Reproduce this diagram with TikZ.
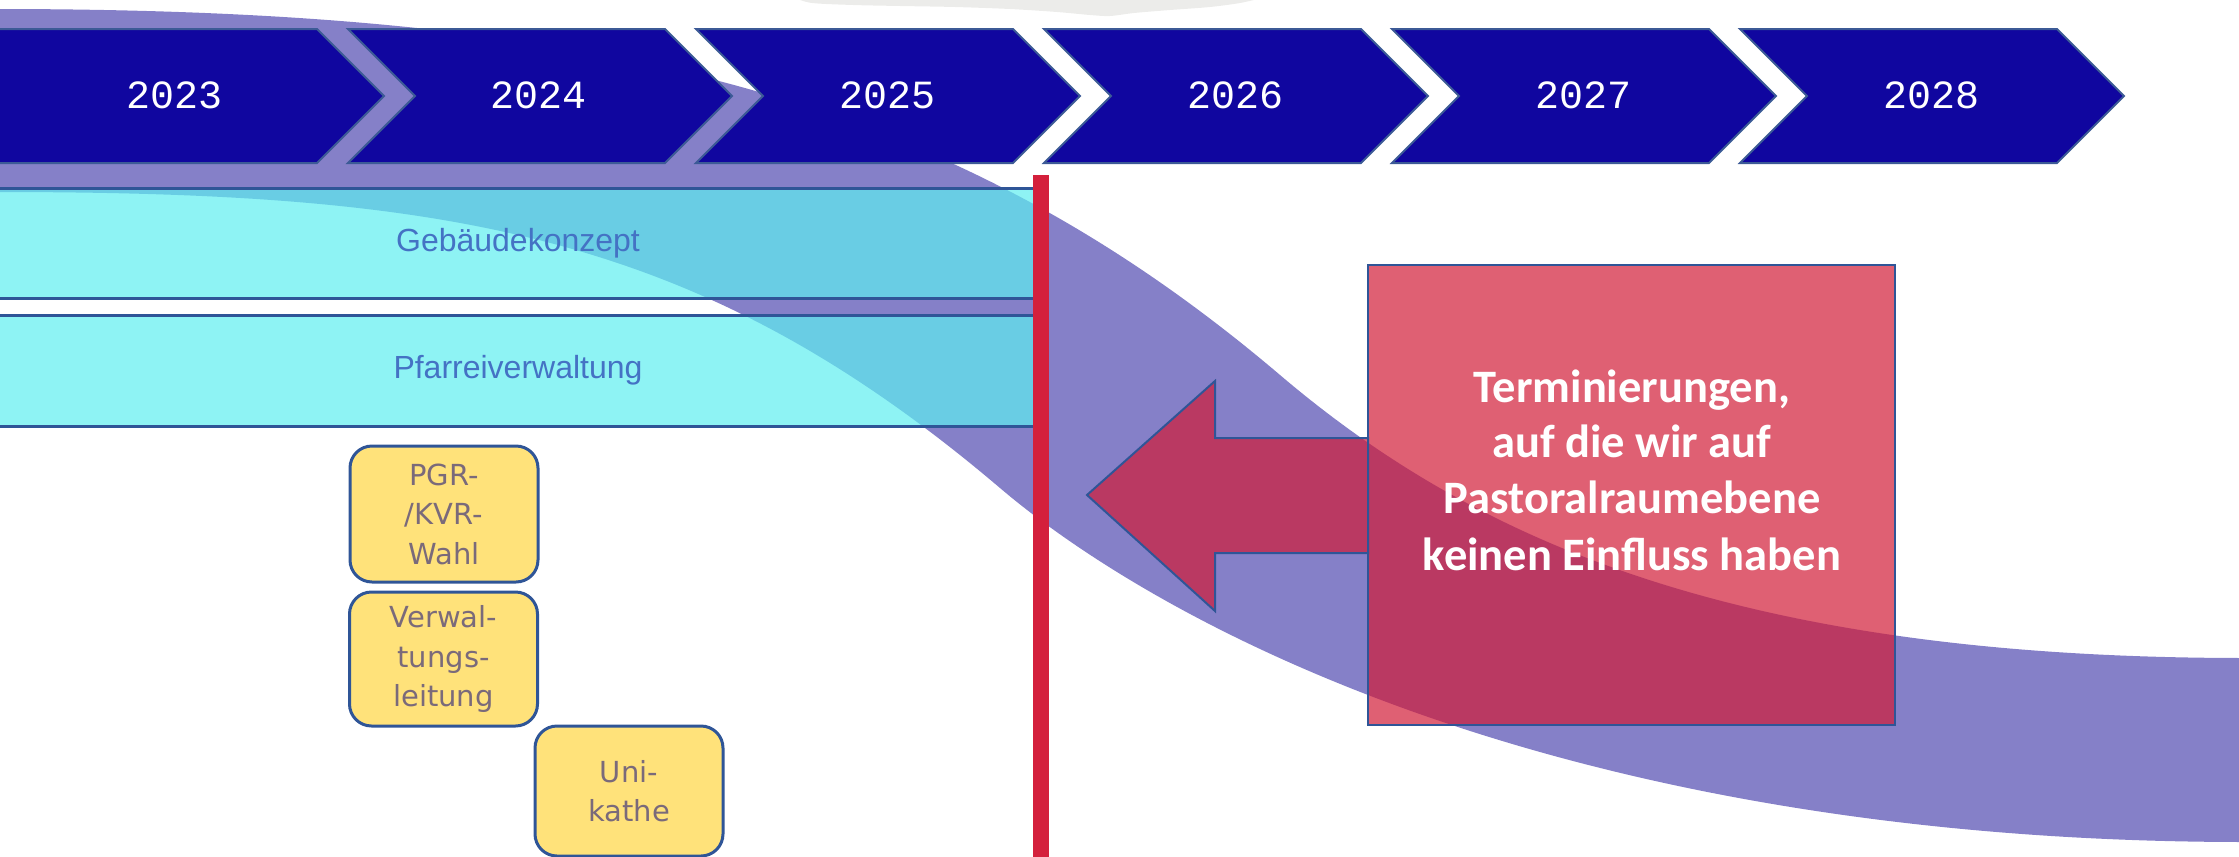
\documentclass[tikz,border=0pt]{standalone}
\usepackage{fontspec}
\setmainfont{Liberation Sans}
\newfontfamily\yearfont{Liberation Mono}
\newfontfamily\boxfont{DejaVu Sans}
\newfontfamily\callfont{Carlito}
\definecolor{chev}{RGB}{16,6,159}
\definecolor{chevline}{RGB}{60,90,150}
\definecolor{wavecol}{RGB}{133,128,200}
\definecolor{cyanbar}{RGB}{94,238,240}
\definecolor{bordblue}{RGB}{47,85,151}
\definecolor{bartext}{RGB}{68,114,196}
\definecolor{yfill}{RGB}{255,226,122}
\definecolor{ytext}{RGB}{122,106,122}
\definecolor{crim}{RGB}{209,28,56}
\definecolor{redline}{RGB}{212,32,60}
\definecolor{blobcol}{RGB}{236,236,234}
\begin{document}
\begin{tikzpicture}[x=1pt,y=-1pt,
  chevron/.style={fill=chev,draw=chevline,line width=2pt,line join=miter},
  yeartext/.style={text=white,font=\yearfont\fontsize{40}{48}\selectfont,inner sep=0pt},
  barbox/.style={fill=cyanbar,fill opacity=0.7,text opacity=1,draw=bordblue,line width=3pt,
    minimum width=1046pt,minimum height=110pt,inner sep=0pt,outer sep=0pt,text=bartext,
    font=\fontsize{32}{38}\selectfont},
  ybox/.style={fill=yfill,draw=bordblue,line width=3pt,rounded corners=22pt,
    minimum width=188pt,inner sep=0pt,outer sep=0pt,text=ytext,align=center,
    font=\boxfont\fontsize{29}{39.5}\selectfont},
  callbox/.style={fill=crim,fill opacity=0.7,draw=bordblue,line width=2pt,
    minimum width=527pt,minimum height=460pt,inner sep=0pt,outer sep=0pt},
  calltext/.style={text=white,font=\callfont\bfseries\fontsize{46.5}{56}\selectfont,inner sep=0pt},
  arrowst/.style={fill=crim,fill opacity=0.7,draw=bordblue,line width=2pt,line join=miter}
]
\useasboundingbox (0,0) rectangle (2239,857);
% light grey blob at top
\fill[blobcol] plot[smooth,tension=0.5] coordinates {(795,-2) (812,3) (853,5) (900,6) (955,7) (1010,9) (1057,12) (1090,15) (1110,16) (1134,13) (1170,10) (1210,7) (1240,3) (1262,-2)} -- cycle;
% purple wave
\fill[wavecol] (-5,9) .. controls (600,9) and (950,94.5) .. (1280,375)
  .. controls (1480,545) and (1745,658) .. (2245,658)
  -- (2245,842) .. controls (1545,842) and (1150,615.5) .. (1000,488)
  .. controls (700,233) and (450,192) .. (-5,192) -- cycle;
% chevrons
\draw[chevron] (-3,29) -- (317,29) -- (384,96) -- (317,163) -- (-3,163) -- cycle;
\node[yeartext,anchor=base] (y2023) at (175,108) {2023};
\foreach \i/\yr in {1/2024,2/2025,3/2026,4/2027,5/2028}{
  \pgfmathsetmacro\s{348*\i}
  \draw[chevron] (\s,29) -- ++(317,0) -- ++(67,67) -- ++(-67,67) -- ++(-317,0) -- ++(67,-67) -- cycle;
  \node[yeartext,anchor=base] (y\yr) at (\s+191,108) {\yr};
}
% cyan bars
\node[barbox] (geb) at (518,243) {Gebäudekonzept};
\node[barbox,minimum height=111pt] (pfv) at (518,370.5) {Pfarreiverwaltung};
% yellow boxes
\node[ybox,minimum height=136pt] (pgr) at (444,514) {PGR-\\/KVR-\\Wahl};
\node[ybox,minimum height=134pt] (vwl) at (443.5,659) {Verwal-\\tungs-\\leitung};
\node[ybox,minimum height=130pt] (uni) at (629,791) {Uni-\\kathe};
% red call-out box and arrow
\node[callbox] (call) at (1631.5,495) {};
\draw[arrowst] ([shift={(0,-57)}]call.west) -- ++(-153,0) -- ++(0,-57)
  -- ([shift={(-281,0)}]call.west) -- ++(128,116) -- ++(0,-58) -- ++(153,0) -- cycle;
\node[calltext,anchor=base] (c1) at (1632,402) {Terminierungen,};
\node[calltext,anchor=base] (c2) at (1632,457) {auf die wir auf};
\node[calltext,anchor=base] (c3) at (1632,513) {Pastoralraumebene};
\node[calltext,anchor=base] (c4) at (1632,570) {keinen Einfluss haben};
% red vertical line
\fill[redline] (1033,175) rectangle (1049,862);
\end{tikzpicture}
\end{document}
